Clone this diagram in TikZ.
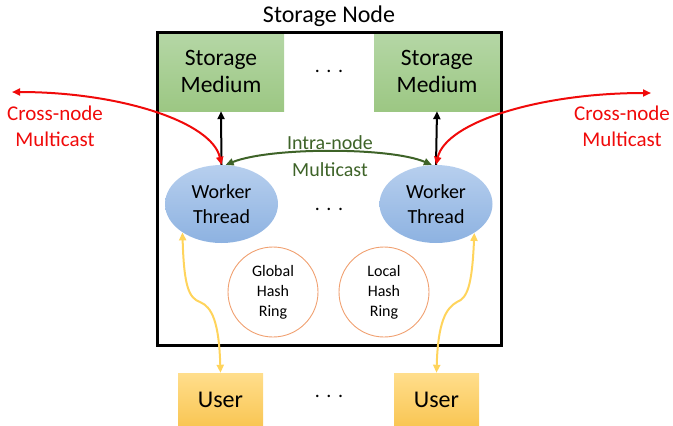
\documentclass[tikz,border=0pt]{standalone}
\usepackage{fontspec}
\setmainfont{Carlito}
\usetikzlibrary{arrows.meta,shapes.geometric}
\definecolor{medtop}{HTML}{B5D7A6}
\definecolor{medbot}{HTML}{9CC783}
\definecolor{wtop}{HTML}{B7CFEE}
\definecolor{wbot}{HTML}{8DB2E1}
\definecolor{utop}{HTML}{FFDE8C}
\definecolor{ubot}{HTML}{F9C654}
\definecolor{ringc}{HTML}{F0A070}
\definecolor{dgreen}{HTML}{3E6328}
\definecolor{yel}{HTML}{FFD45C}
\definecolor{xred}{HTML}{F00A0A}
\tikzset{
  medium/.style={draw=none, top color=medtop, bottom color=medbot, minimum width=126pt, minimum height=79pt, inner sep=0pt, align=center, font=\fontsize{23.5}{27}\selectfont},
  worker/.style={ellipse, draw=none, top color=wtop, bottom color=wbot, minimum width=113pt, minimum height=78pt, inner sep=0pt, align=center, font=\fontsize{20}{25}\selectfont},
  userbox/.style={draw=none, top color=utop, bottom color=ubot, minimum width=85pt, minimum height=53pt, inner sep=0pt, font=\fontsize{24}{28}\selectfont},
  ring/.style={circle, draw=ringc, line width=0.9pt, minimum size=90pt, inner sep=0pt, align=center, font=\fontsize{16}{20}\selectfont},
  redlbl/.style={text=xred, align=center, font=\fontsize{21}{26}\selectfont},
  dots/.style={font=\fontsize{20}{24}\selectfont, inner sep=0pt},
  blk/.style={line width=2pt, -{Triangle[length=8pt,width=7pt]}},
  grn/.style={line width=2pt, dgreen, {Triangle[length=8pt,width=7pt]}-{Triangle[length=8pt,width=7pt]}},
  redarr/.style={line width=2pt, xred, {Triangle[length=8pt,width=7pt]}-{Triangle[length=8pt,width=7pt]}},
  yarr/.style={line width=2pt, yel, {Triangle[length=8pt,width=7pt]}-{Triangle[length=8pt,width=7pt]}},
}
\begin{document}
\begin{tikzpicture}[x=1pt,y=-1pt]
\useasboundingbox (0,0) rectangle (673,426);
\node[font=\fontsize{24}{28}\selectfont] (title) at (329,16) {Storage Node};
\node[medium] (sm1) at (221,71.5) {Storage\\Medium};
\node[medium] (sm2) at (437,71.5) {Storage\\Medium};
\node[draw, line width=3pt, minimum width=344pt, minimum height=313pt, inner sep=0pt] (box) at (329,188.5) {};
\node[dots] (d1) at (329,71) {.\,\,.\,\,.};
\node[worker] (w1) at (221.5,204) {Worker\\Thread};
\node[worker] (w2) at (436,204) {Worker\\Thread};
\node[dots] (d2) at (329,209) {.\,\,.\,\,.};
\node[ring] (gh) at (273,292) {Global\\Hash\\Ring};
\node[ring] (lh) at (384,292) {Local\\Hash\\Ring};
\node[userbox] (u1) at (220.5,399.5) {User};
\node[userbox] (u2) at (436.5,399.5) {User};
\node[dots] (d3) at (329,396) {.\,\,.\,\,.};
\coordinate (cl) at (12,92);
\coordinate (cr) at (651,93);
\node[redlbl] (rl) at (55,126) {Cross-node\\Multicast};
\node[redlbl] (rr) at (622,126) {Cross-node\\Multicast};
\node[text=dgreen, align=center, font=\fontsize{20}{27}\selectfont] (gl) at (330,156) {Intra-node\\Multicast};
% black
\draw[blk] (w1.north) -- (sm1.south);
\draw[blk] (w2.north) -- (sm2.south);
% green
\draw[grn] (w1.84) .. controls (270,147) and (390,147) .. (w2.96);
% red
\draw[redarr] (cl) .. controls (120,92) and (212,122) .. (w1.north);
\draw[redarr] (cr) .. controls (540,93) and (446,122) .. (w2.north);
% yellow
\draw[yarr] (w1.216) .. controls (184,287) and (189,298) .. (200,302) .. controls (212,307) and (219,322) .. (u1.north);
\draw[yarr] (w2.323) .. controls (472,287) and (467,298) .. (457,302) .. controls (446,308) and (438,322) .. (u2.north);
\end{tikzpicture}
\end{document}
